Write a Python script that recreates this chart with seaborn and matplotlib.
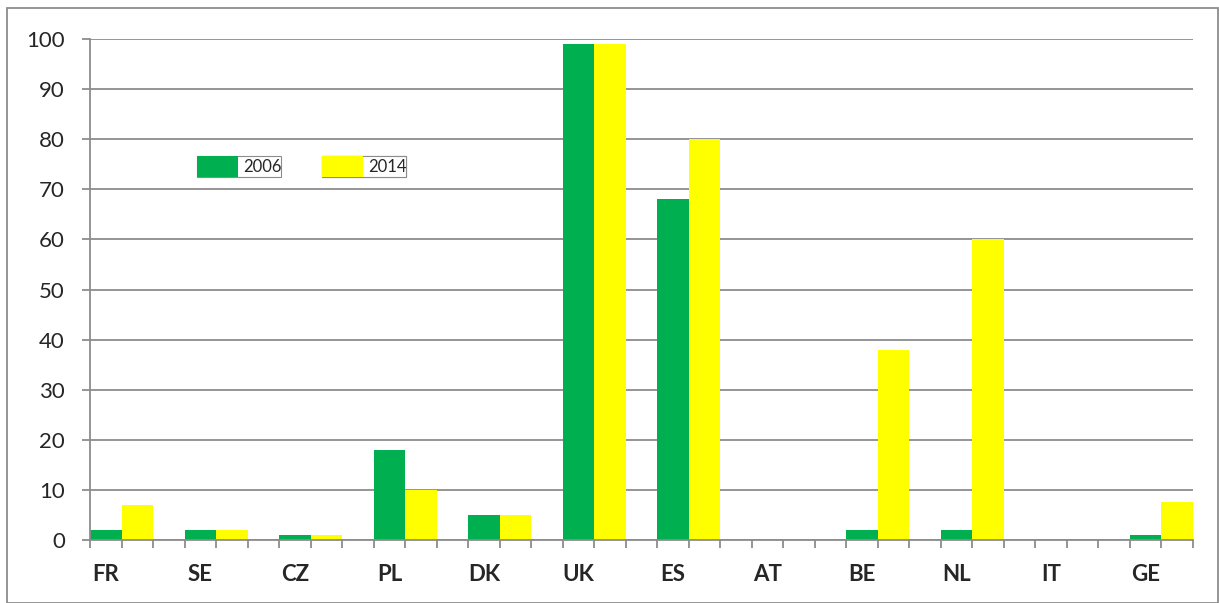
import matplotlib
matplotlib.use("Agg")
import matplotlib.pyplot as plt
from matplotlib.patches import Patch, Rectangle
import seaborn as sns
import pandas as pd
import numpy as np

countries = ['FR', 'SE', 'CZ', 'PL', 'DK', 'UK', 'ES', 'AT', 'BE', 'NL', 'IT', 'GE']
vals_2006 = [2, 2, 1, 18, 5, 99, 68, 0, 2, 2, 0, 1]
vals_2014 = [7, 2, 1, 10, 5, 99, 80, 0, 38, 60, 0, 7.5]
years = ['2006', '2014']
colors = ['#00B050', '#FFFF00']

df = pd.DataFrame({
    'country': countries * 2,
    'year': ['2006'] * len(countries) + ['2014'] * len(countries),
    'value': vals_2006 + vals_2014,
})

sns.set_style('white')
plt.rcParams['font.family'] = ['Lato', 'DejaVu Sans']

fig = plt.figure(figsize=(12.19, 6.03), dpi=100)
ax = fig.add_axes([90 / 1219, 1 - 540 / 603, (1193 - 90) / 1219, (540 - 39) / 603])

sns.barplot(data=df, x='country', y='value', hue='year', palette=colors,
            width=2 / 3, dodge=True, saturation=1, legend=False, linewidth=0, ax=ax)

n = len(countries)
ax.set_xlim(-1 / 3, n - 1 + 1 / 3)
ax.set_ylim(0, 100)
ax.set_yticks(range(0, 101, 10))
ax.yaxis.grid(True, color='#8c8c8c', linewidth=1.3)
ax.set_axisbelow(True)

# category labels sit under the first bar of each group
ax.set_xticks(np.arange(n) - 1 / 6)
ax.set_xticklabels(countries, fontsize=16, fontweight='bold')
ax.set_xticks(np.arange(-1, 3 * n - 1) / 3, minor=True)
ax.tick_params(axis='x', which='both', bottom=True)
ax.tick_params(axis='x', which='major', length=0, pad=17)
ax.tick_params(axis='x', which='minor', length=6, width=1.3, color='#8c8c8c', direction='out')
ax.tick_params(axis='y', left=True, length=6, width=1.3, color='#8c8c8c', labelsize=16, pad=12)
ax.set_xlabel('')
ax.set_ylabel('')

for s in ['top', 'right']:
    ax.spines[s].set_visible(False)
for s in ['left', 'bottom']:
    ax.spines[s].set_color('#8c8c8c')
    ax.spines[s].set_linewidth(1.3)

# two separately boxed legend entries
for i, (yr, c) in enumerate(zip(years, colors)):
    leg = ax.legend(handles=[Patch(facecolor=c, edgecolor='none', label=yr)],
                    loc='lower left', bbox_to_anchor=([197, 322][i] / 1219, 1 - 177 / 603),
                    bbox_transform=fig.transFigure, fontsize=12, frameon=True,
                    fancybox=False, borderpad=0.0, borderaxespad=0, handlelength=2.45,
                    handleheight=1.55, handletextpad=0.3, framealpha=1)
    leg.get_frame().set_edgecolor('#8c8c8c')
    leg.get_frame().set_linewidth(0.8)
    ax.add_artist(leg)

fig.patches.append(Rectangle((7 / 1219, 0), 1 - 7 / 1219 - 0.0005, 1 - 8 / 603,
                             transform=fig.transFigure, fill=False,
                             edgecolor='#8c8c8c', linewidth=1.3))

fig.savefig('out.png', dpi=100)
